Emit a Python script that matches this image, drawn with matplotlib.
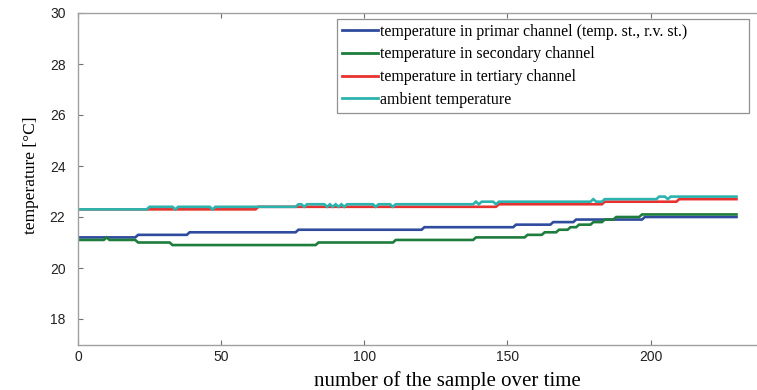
import numpy as np
import matplotlib
matplotlib.use("Agg")
import matplotlib.pyplot as plt

# ---- data (run-length: start sample index, value) ----
n_samples = 231

primary_starts = [0, 21, 39, 77, 121, 153, 166, 174, 198]
primary_values = [21.2, 21.3, 21.4, 21.5, 21.6, 21.7, 21.8, 21.9, 22.0]

secondary_starts = [0, 10, 11, 21, 33, 84, 111, 139, 157, 163, 168, 172, 175, 180, 184, 188, 197]
secondary_values = [21.1, 21.2, 21.1, 21.0, 20.9, 21.0, 21.1, 21.2, 21.3, 21.4, 21.5, 21.6, 21.7, 21.8, 21.9, 22.0, 22.1]

tertiary_starts = [0, 63, 147, 184, 210]
tertiary_values = [22.3, 22.4, 22.5, 22.6, 22.7]

ambient_starts = [0, 25, 34, 35, 47, 48, 77, 79, 80, 87, 88, 89, 90, 91, 92, 93, 94,
                  104, 105, 110, 111, 139, 140, 141, 146, 147, 180, 181, 184, 203, 206, 207]
ambient_values = [22.3, 22.4, 22.3, 22.4, 22.3, 22.4, 22.5, 22.4, 22.5, 22.4, 22.5, 22.4, 22.5, 22.4, 22.5, 22.4, 22.5,
                  22.4, 22.5, 22.4, 22.5, 22.6, 22.5, 22.6, 22.5, 22.6, 22.7, 22.6, 22.7, 22.8, 22.7, 22.8]

labels = ["temperature in primar channel (temp. st., r.v. st.)",
          "temperature in secondary channel",
          "temperature in tertiary channel",
          "ambient temperature"]

x_ticks = [0, 50, 100, 150, 200]
y_ticks = [18, 20, 22, 24, 26, 28, 30]


def expand(starts, values, n):
    bounds = list(starts) + [n]
    lengths = np.diff(bounds)
    return np.repeat(values, lengths)


samples = np.arange(n_samples)
series = [expand(primary_starts, primary_values, n_samples),
          expand(secondary_starts, secondary_values, n_samples),
          expand(tertiary_starts, tertiary_values, n_samples),
          expand(ambient_starts, ambient_values, n_samples)]
colors = ["#2f4b9e", "#1e7d3c", "#e8322f", "#2db3ae"]

fig = plt.figure(figsize=(7.57, 3.90), dpi=100)
ax = fig.add_axes([78 / 757, (390 - 344.5) / 390, (757 - 78) / 757, 331.5 / 390])

for y, c, lab in zip(series, colors, labels):
    ax.plot(samples, y, color=c, lw=1.9, label=lab, solid_joinstyle="miter")

ax.set_xlim(0, 679 / 2.863)
ax.set_ylim(17, 30)
ax.set_xticks(x_ticks)
ax.set_yticks(y_ticks)

for s in ["left", "top", "bottom"]:
    ax.spines[s].set_color("#a0a0a0")
    ax.spines[s].set_linewidth(1.0)
ax.spines["right"].set_visible(False)

ax.tick_params(axis="both", direction="in", color="#707070", length=3.5, width=0.8,
               labelsize=10, labelcolor="#222222")
ax.tick_params(axis="x", top=True, pad=4)
ax.tick_params(axis="y", pad=9)
for t in ax.get_xticklabels() + ax.get_yticklabels():
    t.set_fontfamily("Liberation Sans")

ax.set_xlabel("number of the sample over time", family="Liberation Serif", fontsize=15, labelpad=5)
ax.xaxis.label.set_x((447.5 - 78) / 679)
ax.set_ylabel("temperature [°C]", family="Liberation Serif", fontsize=12.5, labelpad=8)
ax.yaxis.label.set_y((344.5 - 175) / 331.5)

leg = ax.legend(loc="upper left", bbox_to_anchor=(0.3814, 0.0, 0.6068, 0.982), mode="expand",
                borderaxespad=0, frameon=True, fancybox=False, framealpha=1,
                edgecolor="#909090", prop={"family": "Liberation Serif", "size": 11.5},
                handlelength=2.25, handletextpad=0.15, labelspacing=0.42, borderpad=0.3)
leg.get_frame().set_linewidth(0.9)
for line in leg.get_lines():
    line.set_linewidth(2.0)

fig.savefig("out.png", dpi=100)
